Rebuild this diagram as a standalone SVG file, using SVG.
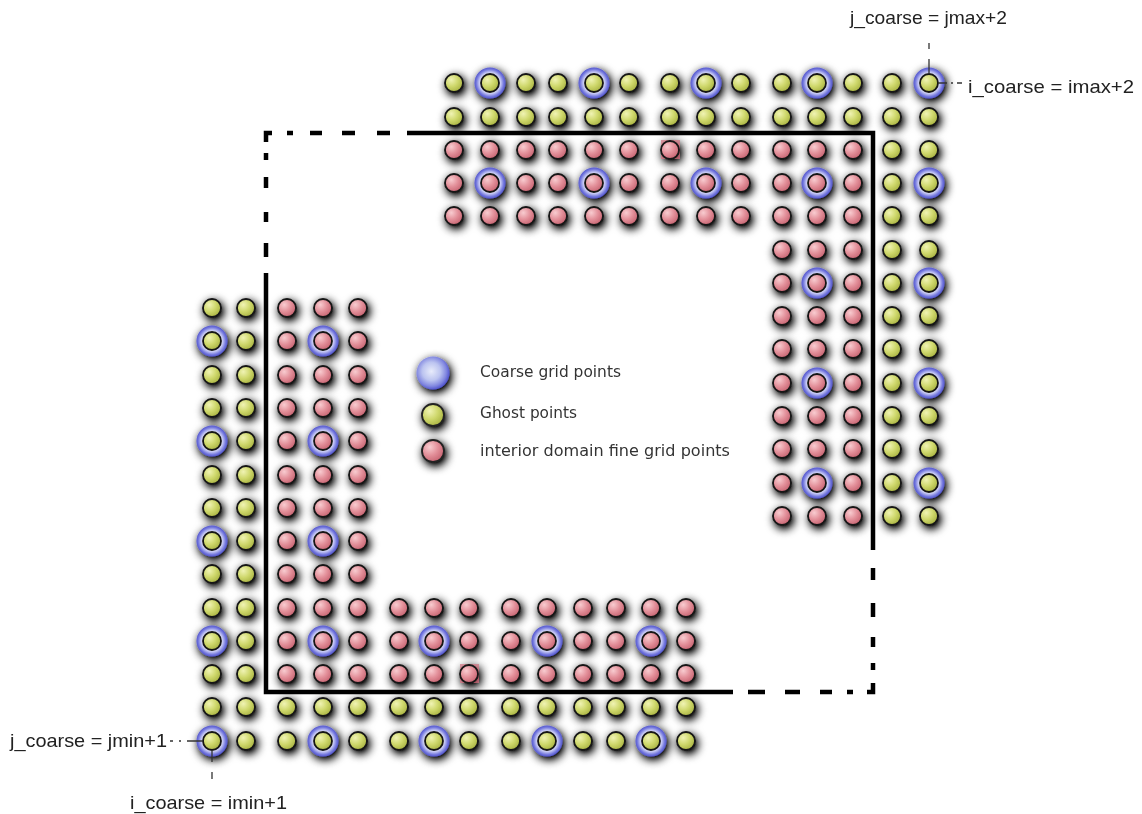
<svg xmlns="http://www.w3.org/2000/svg" xmlns:xlink="http://www.w3.org/1999/xlink" width="1142" height="814" viewBox="0 0 1142 814">
<defs>
<radialGradient id="gG" cx="0.35" cy="0.32" r="0.75">
<stop offset="0" stop-color="#f0f3b4"/><stop offset="0.5" stop-color="#cfd86c"/><stop offset="1" stop-color="#a6b03e"/>
</radialGradient>
<radialGradient id="gR" cx="0.35" cy="0.32" r="0.75">
<stop offset="0" stop-color="#f8ccd0"/><stop offset="0.5" stop-color="#e3909a"/><stop offset="1" stop-color="#c4606e"/>
</radialGradient>
<radialGradient id="gB" cx="0.5" cy="0.5" r="0.5">
<stop offset="0" stop-color="#ffffff"/><stop offset="0.55" stop-color="#f4f4ff"/><stop offset="0.72" stop-color="#b8bbf0"/><stop offset="0.88" stop-color="#7478de"/><stop offset="1" stop-color="#5557cc"/>
</radialGradient>
<radialGradient id="gL" cx="0.45" cy="0.45" r="0.55">
<stop offset="0" stop-color="#e8ecfb"/><stop offset="0.5" stop-color="#bcc4f0"/><stop offset="0.82" stop-color="#8288e0"/><stop offset="1" stop-color="#5558cf"/>
</radialGradient>
<filter id="sh" filterUnits="userSpaceOnUse" x="0" y="0" width="1142" height="814">
<feGaussianBlur in="SourceAlpha" stdDeviation="5"/>
<feOffset dx="2" dy="3" result="b"/>
<feComponentTransfer><feFuncA type="linear" slope="1.3"/></feComponentTransfer>
<feMerge><feMergeNode/><feMergeNode in="SourceGraphic"/></feMerge>
</filter>
<circle id="G" r="9" fill="url(#gG)" stroke="#151515" stroke-width="1.8"/>
<circle id="R" r="9" fill="url(#gR)" stroke="#151515" stroke-width="1.8"/>
<circle id="C" r="15.5" fill="url(#gB)"/>
</defs>
<style>
.lbl{font-family:"Liberation Sans",Arial,sans-serif;font-size:19px;fill:#222}
.leg{font-family:"DejaVu Sans","Liberation Sans",sans-serif;font-size:16.5px;fill:#333}
.bd{stroke:#000;stroke-width:4.5;fill:none}
.ld{stroke:#333;stroke-width:1.3;fill:none}
</style>
<rect width="1142" height="814" fill="#ffffff"/>

<g id="points" filter="url(#sh)">
<g id="coarse">
<use href="#C" x="490" y="83"/><use href="#C" x="594" y="83"/><use href="#C" x="706" y="83"/><use href="#C" x="817" y="83"/><use href="#C" x="929" y="83"/>
<use href="#C" x="490" y="183"/><use href="#C" x="594" y="183"/><use href="#C" x="706" y="183"/><use href="#C" x="817" y="183"/><use href="#C" x="929" y="183"/>
<use href="#C" x="817" y="283"/><use href="#C" x="929" y="283"/><use href="#C" x="817" y="383"/><use href="#C" x="929" y="383"/><use href="#C" x="817" y="483"/><use href="#C" x="929" y="483"/>
<use href="#C" x="212" y="341"/><use href="#C" x="323" y="341"/><use href="#C" x="212" y="441"/><use href="#C" x="323" y="441"/><use href="#C" x="212" y="541"/><use href="#C" x="323" y="541"/><use href="#C" x="212" y="641"/><use href="#C" x="323" y="641"/><use href="#C" x="212" y="741"/><use href="#C" x="323" y="741"/>
<use href="#C" x="434" y="641"/><use href="#C" x="547" y="641"/><use href="#C" x="651" y="641"/><use href="#C" x="434" y="741"/><use href="#C" x="547" y="741"/><use href="#C" x="651" y="741"/>
</g>
<g id="top-region">
<rect x="661" y="140" width="19" height="19" fill="#c86070" opacity="0.6"/>
<use href="#G" x="454" y="83"/><use href="#G" x="490" y="83"/><use href="#G" x="526" y="83"/><use href="#G" x="558" y="83"/><use href="#G" x="594" y="83"/><use href="#G" x="629" y="83"/><use href="#G" x="670" y="83"/><use href="#G" x="706" y="83"/><use href="#G" x="741" y="83"/><use href="#G" x="782" y="83"/><use href="#G" x="817" y="83"/><use href="#G" x="853" y="83"/><use href="#G" x="892" y="83"/><use href="#G" x="929" y="83"/>
<use href="#G" x="454" y="117"/><use href="#G" x="490" y="117"/><use href="#G" x="526" y="117"/><use href="#G" x="558" y="117"/><use href="#G" x="594" y="117"/><use href="#G" x="629" y="117"/><use href="#G" x="670" y="117"/><use href="#G" x="706" y="117"/><use href="#G" x="741" y="117"/><use href="#G" x="782" y="117"/><use href="#G" x="817" y="117"/><use href="#G" x="853" y="117"/><use href="#G" x="892" y="117"/><use href="#G" x="929" y="117"/>
<use href="#R" x="454" y="150"/><use href="#R" x="490" y="150"/><use href="#R" x="526" y="150"/><use href="#R" x="558" y="150"/><use href="#R" x="594" y="150"/><use href="#R" x="629" y="150"/><use href="#R" x="670" y="150"/><use href="#R" x="706" y="150"/><use href="#R" x="741" y="150"/><use href="#R" x="782" y="150"/><use href="#R" x="817" y="150"/><use href="#R" x="853" y="150"/><use href="#G" x="892" y="150"/><use href="#G" x="929" y="150"/>
<use href="#R" x="454" y="183"/><use href="#R" x="490" y="183"/><use href="#R" x="526" y="183"/><use href="#R" x="558" y="183"/><use href="#R" x="594" y="183"/><use href="#R" x="629" y="183"/><use href="#R" x="670" y="183"/><use href="#R" x="706" y="183"/><use href="#R" x="741" y="183"/><use href="#R" x="782" y="183"/><use href="#R" x="817" y="183"/><use href="#R" x="853" y="183"/><use href="#G" x="892" y="183"/><use href="#G" x="929" y="183"/>
<use href="#R" x="454" y="216"/><use href="#R" x="490" y="216"/><use href="#R" x="526" y="216"/><use href="#R" x="558" y="216"/><use href="#R" x="594" y="216"/><use href="#R" x="629" y="216"/><use href="#R" x="670" y="216"/><use href="#R" x="706" y="216"/><use href="#R" x="741" y="216"/><use href="#R" x="782" y="216"/><use href="#R" x="817" y="216"/><use href="#R" x="853" y="216"/><use href="#G" x="892" y="216"/><use href="#G" x="929" y="216"/>
</g>
<g id="right-region">
<use href="#R" x="782" y="250"/><use href="#R" x="817" y="250"/><use href="#R" x="853" y="250"/><use href="#G" x="892" y="250"/><use href="#G" x="929" y="250"/>
<use href="#R" x="782" y="283"/><use href="#R" x="817" y="283"/><use href="#R" x="853" y="283"/><use href="#G" x="892" y="283"/><use href="#G" x="929" y="283"/>
<use href="#R" x="782" y="316"/><use href="#R" x="817" y="316"/><use href="#R" x="853" y="316"/><use href="#G" x="892" y="316"/><use href="#G" x="929" y="316"/>
<use href="#R" x="782" y="349"/><use href="#R" x="817" y="349"/><use href="#R" x="853" y="349"/><use href="#G" x="892" y="349"/><use href="#G" x="929" y="349"/>
<use href="#R" x="782" y="383"/><use href="#R" x="817" y="383"/><use href="#R" x="853" y="383"/><use href="#G" x="892" y="383"/><use href="#G" x="929" y="383"/>
<use href="#R" x="782" y="416"/><use href="#R" x="817" y="416"/><use href="#R" x="853" y="416"/><use href="#G" x="892" y="416"/><use href="#G" x="929" y="416"/>
<use href="#R" x="782" y="449"/><use href="#R" x="817" y="449"/><use href="#R" x="853" y="449"/><use href="#G" x="892" y="449"/><use href="#G" x="929" y="449"/>
<use href="#R" x="782" y="483"/><use href="#R" x="817" y="483"/><use href="#R" x="853" y="483"/><use href="#G" x="892" y="483"/><use href="#G" x="929" y="483"/>
<use href="#R" x="782" y="516"/><use href="#R" x="817" y="516"/><use href="#R" x="853" y="516"/><use href="#G" x="892" y="516"/><use href="#G" x="929" y="516"/>
</g>
<g id="left-region">
<use href="#G" x="212" y="308"/><use href="#G" x="246" y="308"/><use href="#R" x="287" y="308"/><use href="#R" x="323" y="308"/><use href="#R" x="358" y="308"/>
<use href="#G" x="212" y="341"/><use href="#G" x="246" y="341"/><use href="#R" x="287" y="341"/><use href="#R" x="323" y="341"/><use href="#R" x="358" y="341"/>
<use href="#G" x="212" y="375"/><use href="#G" x="246" y="375"/><use href="#R" x="287" y="375"/><use href="#R" x="323" y="375"/><use href="#R" x="358" y="375"/>
<use href="#G" x="212" y="408"/><use href="#G" x="246" y="408"/><use href="#R" x="287" y="408"/><use href="#R" x="323" y="408"/><use href="#R" x="358" y="408"/>
<use href="#G" x="212" y="441"/><use href="#G" x="246" y="441"/><use href="#R" x="287" y="441"/><use href="#R" x="323" y="441"/><use href="#R" x="358" y="441"/>
<use href="#G" x="212" y="475"/><use href="#G" x="246" y="475"/><use href="#R" x="287" y="475"/><use href="#R" x="323" y="475"/><use href="#R" x="358" y="475"/>
<use href="#G" x="212" y="508"/><use href="#G" x="246" y="508"/><use href="#R" x="287" y="508"/><use href="#R" x="323" y="508"/><use href="#R" x="358" y="508"/>
<use href="#G" x="212" y="541"/><use href="#G" x="246" y="541"/><use href="#R" x="287" y="541"/><use href="#R" x="323" y="541"/><use href="#R" x="358" y="541"/>
<use href="#G" x="212" y="574"/><use href="#G" x="246" y="574"/><use href="#R" x="287" y="574"/><use href="#R" x="323" y="574"/><use href="#R" x="358" y="574"/>
<use href="#G" x="212" y="608"/><use href="#G" x="246" y="608"/><use href="#R" x="287" y="608"/><use href="#R" x="323" y="608"/><use href="#R" x="358" y="608"/>
<use href="#G" x="212" y="641"/><use href="#G" x="246" y="641"/><use href="#R" x="287" y="641"/><use href="#R" x="323" y="641"/><use href="#R" x="358" y="641"/>
<use href="#G" x="212" y="674"/><use href="#G" x="246" y="674"/><use href="#R" x="287" y="674"/><use href="#R" x="323" y="674"/><use href="#R" x="358" y="674"/>
<use href="#G" x="212" y="707"/><use href="#G" x="246" y="707"/><use href="#G" x="287" y="707"/><use href="#G" x="323" y="707"/><use href="#G" x="358" y="707"/>
<use href="#G" x="212" y="741"/><use href="#G" x="246" y="741"/><use href="#G" x="287" y="741"/><use href="#G" x="323" y="741"/><use href="#G" x="358" y="741"/>
</g>
<g id="bottom-region">
<rect x="460" y="664" width="19" height="19" fill="#c86070" opacity="0.6"/>
<use href="#R" x="399" y="608"/><use href="#R" x="434" y="608"/><use href="#R" x="469" y="608"/><use href="#R" x="511" y="608"/><use href="#R" x="547" y="608"/><use href="#R" x="583" y="608"/><use href="#R" x="616" y="608"/><use href="#R" x="651" y="608"/><use href="#R" x="686" y="608"/>
<use href="#R" x="399" y="641"/><use href="#R" x="434" y="641"/><use href="#R" x="469" y="641"/><use href="#R" x="511" y="641"/><use href="#R" x="547" y="641"/><use href="#R" x="583" y="641"/><use href="#R" x="616" y="641"/><use href="#R" x="651" y="641"/><use href="#R" x="686" y="641"/>
<use href="#R" x="399" y="674"/><use href="#R" x="434" y="674"/><use href="#R" x="469" y="674"/><use href="#R" x="511" y="674"/><use href="#R" x="547" y="674"/><use href="#R" x="583" y="674"/><use href="#R" x="616" y="674"/><use href="#R" x="651" y="674"/><use href="#R" x="686" y="674"/>
<use href="#G" x="399" y="707"/><use href="#G" x="434" y="707"/><use href="#G" x="469" y="707"/><use href="#G" x="511" y="707"/><use href="#G" x="547" y="707"/><use href="#G" x="583" y="707"/><use href="#G" x="616" y="707"/><use href="#G" x="651" y="707"/><use href="#G" x="686" y="707"/>
<use href="#G" x="399" y="741"/><use href="#G" x="434" y="741"/><use href="#G" x="469" y="741"/><use href="#G" x="511" y="741"/><use href="#G" x="547" y="741"/><use href="#G" x="583" y="741"/><use href="#G" x="616" y="741"/><use href="#G" x="651" y="741"/><use href="#G" x="686" y="741"/>
</g>
<g id="legend-symbols">
<circle cx="433" cy="373" r="16.5" fill="url(#gL)"/>
<circle cx="433" cy="415" r="11" fill="url(#gG)" stroke="#222" stroke-width="1.8"/>
<circle cx="433" cy="451" r="11" fill="url(#gR)" stroke="#222" stroke-width="1.8"/>
</g>
</g>

<g id="boundary">
<path class="bd" d="M407,133 H873 V550"/>
<path class="bd" d="M733,692 H266 V273"/>
<path class="bd" d="M266,257 V243 M266,222 V212 M266,188 V177 M266,160 V153 M266,142 V133 H272 M287,133 H293 M310,133 H322 M342,133 H355 M377,133 H390"/>
<path class="bd" d="M873,568 V580 M873,603 V617 M873,637 V647 M873,663 V670 M873,683 V692 H867 M853,692 H847 M832,692 H820 M800,692 H785 M765,692 H748"/>
</g>

<g id="legend-text">
<text class="leg" x="480" y="377" textLength="141" lengthAdjust="spacingAndGlyphs">Coarse grid points</text>
<text class="leg" x="480" y="418" textLength="97" lengthAdjust="spacingAndGlyphs">Ghost points</text>
<text class="leg" x="480" y="456" textLength="250" lengthAdjust="spacingAndGlyphs">interior domain fine grid points</text>
</g>

<g id="labels">
<path class="ld" d="M929,43 V49 M929,59 V74 M938,83 H947 M951,83 H953 M957,83 H962"/>
<path class="ld" d="M170,741 H173 M179,741 H181 M187,741 H203 M212,750 V762 M212,772 V779"/>
<text class="lbl" x="850" y="24" textLength="157" lengthAdjust="spacingAndGlyphs">j_coarse = jmax+2</text>
<text class="lbl" x="968" y="93" textLength="166" lengthAdjust="spacingAndGlyphs">i_coarse = imax+2</text>
<text class="lbl" x="10" y="747" textLength="157" lengthAdjust="spacingAndGlyphs">j_coarse = jmin+1</text>
<text class="lbl" x="130" y="809" textLength="157" lengthAdjust="spacingAndGlyphs">i_coarse = imin+1</text>
</g>
</svg>
